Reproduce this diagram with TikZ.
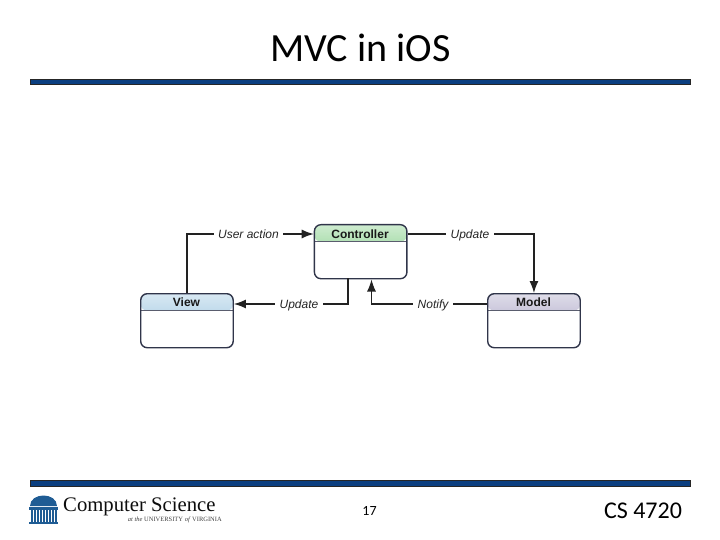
\documentclass[tikz,border=0pt]{standalone}
\usepackage{fontspec}
\setmainfont{Carlito}
\newfontfamily\helv{Liberation Sans}
\newfontfamily\logofont{Liberation Serif}
\usetikzlibrary{arrows.meta}
\definecolor{rulebar}{HTML}{0B3F80}
\definecolor{boxedge}{HTML}{30354A}
\definecolor{wire}{HTML}{222222}
\definecolor{domeblue}{HTML}{1F5C94}
\definecolor{viewhead}{HTML}{8FBEDC}
\definecolor{ctrlhead}{HTML}{74C878}
\definecolor{modelhead}{HTML}{A29CC0}
\tikzset{
  slidebar/.style={draw=black!85,line width=0.8pt,fill=rulebar,minimum width=660pt,minimum height=5.5pt,inner sep=0pt,anchor=north west},
  umlbox/.style={draw=boxedge,line width=1.4pt,rounded corners=6.5pt,minimum width=92.5pt,minimum height=54pt,inner sep=0pt,anchor=north west,fill=white,
    path picture={
      \shade[top color=#1!35!white,bottom color=#1]
        (path picture bounding box.north west) rectangle ([yshift=-17pt]path picture bounding box.north east);
      \draw[boxedge!80,line width=0.8pt]
        ([yshift=-17pt]path picture bounding box.north west) -- ([yshift=-17pt]path picture bounding box.north east);
    }},
  boxtitle/.style={font=\helv\bfseries\fontsize{12}{14}\selectfont,inner sep=0pt,text=black!90},
  wirelabel/.style={font=\helv\itshape\fontsize{12}{14}\selectfont,fill=white,inner xsep=4.5pt,inner ysep=0pt,text height=9pt,text depth=3pt,text=black!85},
  wireline/.style={draw=wire,line width=1.2pt},
  wirearrow/.style={wireline,-{Latex[length=12pt,width=9pt]}},
}
\begin{document}
\begin{tikzpicture}[x=1pt,y=-1pt]
\useasboundingbox (0,0) rectangle (720,540);
\node[font=\fontsize{40}{44}\selectfont,text=black] (title) at (360.5,47.5) {MVC in iOS};
\node[slidebar] (topbar) at (30,79) {};
\node[slidebar] (botbar) at (30,480) {};

\node[umlbox=viewhead] (view) at (140,293) {};
\node[umlbox=ctrlhead] (ctrl) at (313.7,224) {};
\node[umlbox=modelhead] (model) at (487,293) {};
\node[boxtitle] (viewt) at (186.5,302.7) {View};
\node[boxtitle] (ctrlt) at (360,234) {Controller};
\node[boxtitle] (modelt) at (533.5,302.7) {Model};

\coordinate (ctrlW) at (ctrl.west |- 0,234);
\coordinate (ctrlE) at (ctrl.east |- 0,234);
\coordinate (viewE) at (view.east |- 0,304);
\coordinate (modelW) at (model.west |- 0,304);
\coordinate (ctrlB1) at (348,278);
\coordinate (ctrlB2) at (371.5,279.5);

\draw[wirearrow] (view.north) |- (ctrlW);
\draw[wirearrow] (ctrlE) -| (model.north);
\draw[wirearrow] (ctrlB1) |- (viewE);
\draw[wirearrow] (modelW) -| (ctrlB2);

\node[wirelabel] (l1) at (248.5,235) {User action};
\node[wirelabel] (l2) at (470,235) {Update};
\node[wirelabel] (l3) at (299,305) {Update};
\node[wirelabel] (l4) at (433,305) {Notify};

\node[font=\fontsize{14}{16}\selectfont] (page) at (369.5,510.5) {17};
\node[font=\fontsize{24}{28}\selectfont] (course) at (643,511) {CS 4720};

% logo
\fill[domeblue] (29,524) rectangle (58,521.5);
\fill[domeblue] (30,506) .. controls (30,499) and (37,495.5) .. (43.5,495.5) .. controls (50,495.5) and (57,499) .. (57,506) -- cycle;
\fill[domeblue] (29,507) rectangle (58,510);
\foreach \xx in {31,34,37,40,43,46,49,52,55} \fill[domeblue] (\xx,510) rectangle +(1.8,11.5);
\node[font=\logofont\fontsize{20.7}{24}\selectfont,anchor=west,inner sep=0pt,text=black!95] (cs) at (63,506.5) {Computer Science};
\node[font=\logofont\fontsize{6.5}{8}\selectfont,anchor=east,inner sep=0pt,text=black!75] (uva) at (222,519.5) {\textit{at the} UNIVERSITY \textit{of} VIRGINIA};
\end{tikzpicture}
\end{document}
